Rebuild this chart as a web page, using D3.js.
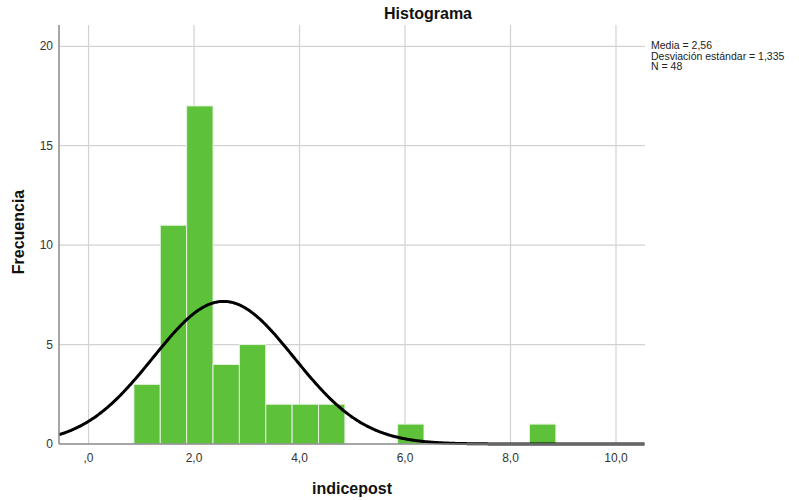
<!DOCTYPE html>
<html>
<head>
<meta charset="utf-8">
<script src="https://cdn.jsdelivr.net/npm/d3@7"></script>
<style>
  body { margin: 0; background: #fff; }
  text { font-family: "Liberation Sans", Arial, sans-serif; }
</style>
</head>
<body>
<div id="chart"></div>
<script>
// Histogram of indicepost (SPSS style)

// bins: start of each bin and its count
const binStarts = [0.86, 1.36, 1.86, 2.36, 2.86, 3.36, 3.86, 4.36, 5.86, 8.36];
const binCounts = [3, 11, 17, 4, 5, 2, 2, 2, 1, 1];
const binWidth = 0.5;

const xTicks = [0, 2, 4, 6, 8, 10];
const xTickLabels = [",0", "2,0", "4,0", "6,0", "8,0", "10,0"];
const yTicks = [0, 5, 10, 15, 20];

const stats = ["Media = 2,56", "Desviación estándar = 1,335", "N = 48"];
const mean = 2.56, sd = 1.335, n = 48;

const width = 799, height = 500;
const plotL = 59, plotR = 645, plotT = 25, plotB = 444;

const svg = d3.select("#chart").append("svg")
  .attr("width", width)
  .attr("height", height);

const x = d3.scaleLinear().domain([-0.56, 10.55]).range([plotL, plotR]);
const y = d3.scaleLinear().domain([0, 21.07]).range([plotB, plotT]);

// grid lines
svg.append("g")
  .selectAll("line")
  .data(xTicks)
  .join("line")
  .attr("x1", d => x(d)).attr("x2", d => x(d))
  .attr("y1", plotT).attr("y2", plotB)
  .attr("stroke", "#d2d2d2")
  .attr("stroke-width", 1.2);

svg.append("g")
  .selectAll("line")
  .data(yTicks.filter(d => d > 0))
  .join("line")
  .attr("x1", plotL).attr("x2", plotR)
  .attr("y1", d => y(d)).attr("y2", d => y(d))
  .attr("stroke", "#d2d2d2")
  .attr("stroke-width", 1.2);

// bars
svg.append("g")
  .selectAll("rect")
  .data(binStarts.map((s, i) => ({ s, c: binCounts[i] })))
  .join("rect")
  .attr("x", d => x(d.s))
  .attr("width", d => x(d.s + binWidth) - x(d.s))
  .attr("y", d => y(d.c))
  .attr("height", d => y(0) - y(d.c))
  .attr("fill", "#5dc13a")
  .attr("stroke", "#e4f3dc")
  .attr("stroke-width", 1);

// normal curve
const curvePts = d3.range(-0.56, 10.551, 0.02).map(v => [v,
  n * binWidth / (sd * Math.sqrt(2 * Math.PI)) * Math.exp(-0.5 * Math.pow((v - mean) / sd, 2))]);

svg.append("path")
  .datum(curvePts)
  .attr("fill", "none")
  .attr("stroke", "#000")
  .attr("stroke-width", 3)
  .attr("d", d3.line().x(d => x(d[0])).y(d => y(d[1])));

// axes lines
svg.append("line")
  .attr("x1", plotL).attr("x2", plotL)
  .attr("y1", plotT).attr("y2", plotB)
  .attr("stroke", "#888").attr("stroke-width", 1.5);
svg.append("line")
  .attr("x1", plotL).attr("x2", plotR)
  .attr("y1", plotB).attr("y2", plotB)
  .attr("stroke", "#888").attr("stroke-width", 1.5);

// tick labels
svg.append("g")
  .selectAll("text")
  .data(yTicks)
  .join("text")
  .attr("x", plotL - 6)
  .attr("y", d => y(d) + 4)
  .attr("text-anchor", "end")
  .attr("font-size", 12)
  .attr("fill", "#333")
  .text(d => d);

svg.append("g")
  .selectAll("text")
  .data(xTicks)
  .join("text")
  .attr("x", d => x(d))
  .attr("y", 462)
  .attr("text-anchor", "middle")
  .attr("font-size", 12)
  .attr("fill", "#333")
  .text((d, i) => xTickLabels[i]);

// titles
svg.append("text")
  .attr("x", 428).attr("y", 19)
  .attr("text-anchor", "middle")
  .attr("font-size", 16)
  .attr("font-weight", "bold")
  .attr("fill", "#111")
  .text("Histograma");

svg.append("text")
  .attr("x", 352).attr("y", 494)
  .attr("text-anchor", "middle")
  .attr("font-size", 16)
  .attr("font-weight", "bold")
  .attr("fill", "#111")
  .text("indicepost");

svg.append("text")
  .attr("transform", "translate(24,232) rotate(-90)")
  .attr("text-anchor", "middle")
  .attr("font-size", 16)
  .attr("font-weight", "bold")
  .attr("fill", "#111")
  .text("Frecuencia");

// stats legend
svg.append("g")
  .selectAll("text")
  .data(stats)
  .join("text")
  .attr("x", 651)
  .attr("y", (d, i) => 49 + i * 10.5)
  .attr("font-size", 10.5)
  .attr("fill", "#222")
  .text(d => d);
</script>
</body>
</html>
